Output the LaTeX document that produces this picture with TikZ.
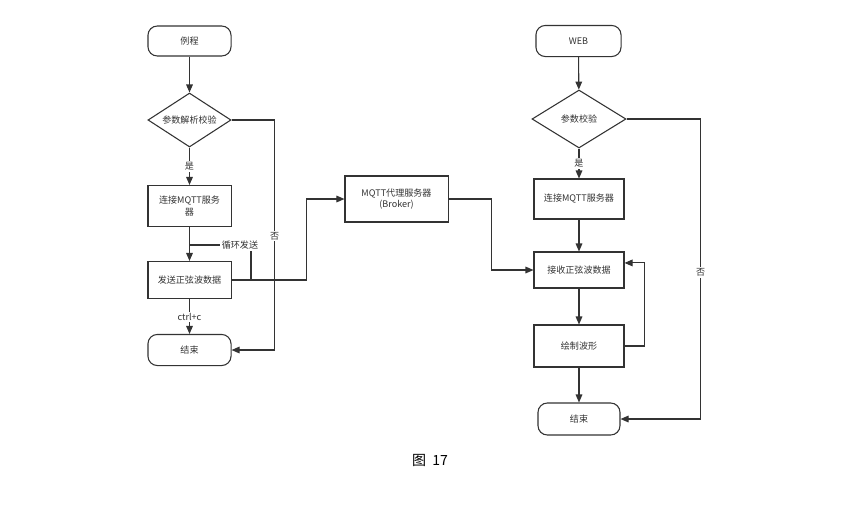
\documentclass[tikz,border=0pt]{standalone}
\usepackage{fontspec}
\setmainfont{Noto Sans CJK SC}
\usetikzlibrary{arrows.meta,shapes.geometric}
\definecolor{ink}{HTML}{333333}
\begin{document}
\begin{tikzpicture}[
    x=0.75pt, y=-0.75pt,
    font=\fontsize{6.8}{8.5}\selectfont,
    every node/.style={text=ink},
    box/.style={draw=ink,line width=0.8pt,fill=white,align=center,inner sep=0pt},
    term/.style={box,rounded corners=7pt},
    dia/.style={box,diamond},
    lbl/.style={fill=white,inner sep=1pt},
    line/.style={draw=ink,line width=0.8pt},
    arr/.style={line,-{Triangle[length=6pt,width=5pt]}}
]
\fill[white] (0,0) rectangle (863,508);
\useasboundingbox (0,0) rectangle (863,508);

% routine side
\node[term,minimum width=62.3pt,minimum height=22.5pt] (start1) at (189.5,41) {例程};
\node[dia,minimum width=62.3pt,minimum height=40.5pt] (chk1) at (189.5,120) {\makebox[0pt]{参数解析校验}};
\node[box,minimum width=62.3pt,minimum height=30.8pt] (conn1) at (189.5,206) {连接MQTT服务\\器};
\node[box,minimum width=62.3pt,minimum height=27.8pt] (send1) at (189.5,280) {发送正弦波数据};
\node[term,minimum width=62.3pt,minimum height=23.3pt] (end1) at (189.5,350) {结束};

% broker
\node[box,minimum width=77.3pt,minimum height=34.5pt] (broker) at (396.5,199) {MQTT代理服务器\\(Broker)};

% web side
\node[term,minimum width=63.8pt,minimum height=23.3pt] (start2) at (578.5,41) {WEB};
\node[dia,minimum width=70.5pt,minimum height=43.5pt] (chk2) at (579,119) {\makebox[0pt]{参数校验}};
\node[box,minimum width=67.5pt,minimum height=30pt] (conn2) at (579,199) {连接MQTT服务器};
\node[box,minimum width=67.5pt,minimum height=27pt] (recv) at (579,270) {接收正弦波数据};
\node[box,minimum width=67.5pt,minimum height=31.5pt] (plot) at (579,346) {绘制波形};
\node[term,minimum width=61.5pt,minimum height=24pt] (end2) at (579,419) {结束};

\node[font=\fontsize{10.5}{12}\selectfont,text=black] (cap) at (430,460) {图\ \ 17};

\coordinate (lp1) at (189.5,245);
\coordinate (lp2) at (251,245);

\draw[arr] (start1) -- (chk1);
\draw[arr] (chk1) -- node[lbl]{是} (conn1);
\draw[arr] (conn1) -- (send1);
\draw[line] (send1.east) -| (lp2) -- node[lbl,pos=0.18]{循环发送} (lp1);
\draw[arr] (send1) -- node[lbl]{ctrl+c} (end1);
\draw[arr] (chk1.east) -- ++(43,0) |- node[lbl,pos=0.252]{否} (end1.east);
\draw[arr] (send1.east) -- ++(75,0) |- (broker.west);
\draw[arr] (broker.east) -- ++(43,0) |- (recv.west);

\draw[arr] (start2) -- (chk2);
\draw[arr] (chk2) -- node[lbl]{是} (conn2);
\draw[arr] (conn2) -- (recv);
\draw[arr] (recv) -- (plot);
\draw[arr] (plot) -- (end2);
\draw[arr] (plot.east) -- ++(20,0) |- ([yshift=5.3pt]recv.east);
\draw[arr] (chk2.east) -- ++(74,0) |- node[lbl,pos=0.256]{否} (end2.east);
\end{tikzpicture}
\end{document}
